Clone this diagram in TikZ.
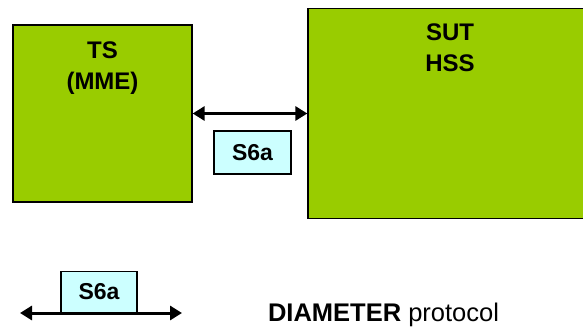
\documentclass[tikz,border=0pt]{standalone}
\usepackage{fontspec}
\setmainfont{Liberation Sans}
\usepackage{xcolor}
\usetikzlibrary{arrows.meta, positioning}
\definecolor{boxgreen}{HTML}{99CC00}
\definecolor{ifcyan}{HTML}{CCFFFF}

\begin{document}
\begin{tikzpicture}[
  x=1pt, y=-1pt,
  >={Triangle[length=12pt,width=14pt]},
  entity/.style={draw, fill=boxgreen, line width=1.3pt, inner sep=0pt},
  title/.style={align=center, inner sep=0pt, font=\fontsize{24}{31}\selectfont\bfseries},
  iface/.style={draw, fill=ifcyan, line width=1.3pt, inner sep=0pt, font=\fontsize{23}{25}\selectfont\bfseries},
  link/.style={<->, line width=3pt}
]
\useasboundingbox (0,0) rectangle (583,331);
\clip (0,0) rectangle (583,331);
\node[entity, minimum width=179pt, minimum height=177pt] (ts) at (102.5,113.5) {};
\node[title, below=17pt of ts.north] (tstext) {TS\\(MME)};
\node[entity, minimum width=284pt, minimum height=210pt] (hss) at (450,113.5) {};
\node[title, below=16pt of hss.north] (hsstext) {SUT\\HSS};
\node[iface, minimum width=77pt, minimum height=43pt] (s6a) at (252.5,152.5) {S6a};

% legend
\coordinate (legl) at (20,313);
\coordinate (legr) at (182,313);
\node[iface, minimum width=76pt, minimum height=41pt, anchor=south] (legs6a) at (99,313) {S6a};
\node[inner sep=0pt, font=\fontsize{25.5}{28}\selectfont] (legtext) at (383.5,315) {\textbf{DIAMETER} protocol};

\draw[link] (ts.east) -- (hss.west);
\draw[link] (legl) -- (legr);
\end{tikzpicture}
\end{document}
